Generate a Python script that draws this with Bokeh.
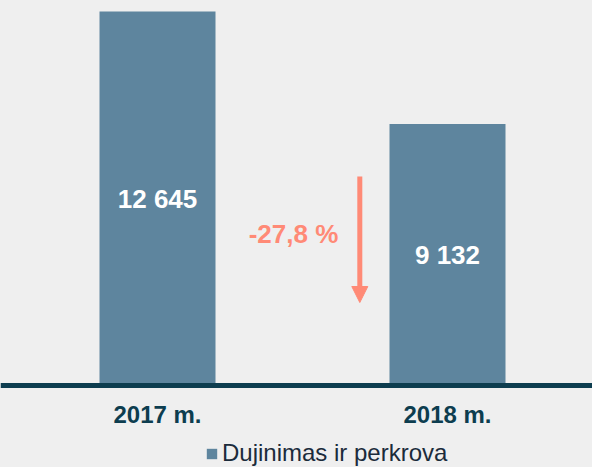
from bokeh.plotting import figure
from bokeh.models import (ColumnDataSource, Range1d, Legend, LegendItem,
                          Label, Arrow, NormalHead, Span)
from bokeh.embed import file_html
from bokeh.resources import INLINE
from bokeh.core.properties import value

# ---- data ----
categories = ["2017 m.", "2018 m."]
values = [12645, 9132]
series_name = "Dujinimas ir perkrova"

BG = "#efefef"
BAR = "#5e859e"
DARK = "#0d3d4f"
SALMON = "#ff8a76"
FONT = "Liberation Sans"

y0 = 965                      # value axis baseline (chart does not start at zero)
xs = list(range(len(categories)))

def fmt(v):
    return f"{v:,}".replace(",", " ")

src = ColumnDataSource(dict(
    x=xs, top=values, cat=categories,
    base=[y0] * len(values),
    mid=[(y0 + v) / 2 for v in values],
    label=[fmt(v) for v in values],
))

p = figure(frame_width=592, frame_height=467, output_backend="svg", toolbar_location=None,
           x_range=Range1d(-0.5414, 1.5), y_range=Range1d(-1596, 12989),
           min_border_left=0, min_border_right=0, min_border_top=0, min_border_bottom=0,
           background_fill_color=BG, border_fill_color=BG, outline_line_color=None)
p.xaxis.visible = False
p.yaxis.visible = False
p.xgrid.visible = False
p.ygrid.visible = False

bars = p.vbar(x="x", top="top", bottom="base", width=0.4, source=src,
              fill_color=BAR, line_color=None)

# baseline (category axis line)
p.add_layout(Span(location=y0, dimension="width", line_color=DARK, line_width=5))

# value labels inside bars
p.text(x="x", y="mid", text="label", source=src, text_align="center",
       text_baseline="middle", text_color="white", text_font=value(FONT),
       text_font_size="26px", text_font_style="bold")

# category labels below the baseline
p.text(x="x", y="base", text="cat", source=src, y_offset=29, text_align="center",
       text_baseline="middle", text_color=DARK, text_font=value(FONT),
       text_font_size="24px", text_font_style="bold")

# percentage change annotation
pct = (values[1] - values[0]) / values[0] * 100
pct_text = f"{pct:.1f}".replace(".", ",") + " %"
p.add_layout(Label(x=0.469, y=5681, text=pct_text, text_align="center",
                   text_baseline="middle", text_color=SALMON, text_font=FONT,
                   text_font_size="26px", text_font_style="bold"))
p.add_layout(Arrow(x_start=0.6976, y_start=7492, x_end=0.6976, y_end=3557,
                   line_color=SALMON, line_width=5,
                   end=NormalHead(size=16, fill_color=SALMON, line_color=SALMON)))

legend = Legend(items=[LegendItem(label=series_name, renderers=[bars])],
                orientation="horizontal", location=(205, 0),
                background_fill_alpha=0, border_line_color=None,
                label_text_font=FONT, label_text_font_size="24px",
                label_text_color="#1b2b3b", glyph_width=13, glyph_height=13,
                label_standoff=4, padding=0, margin=0, spacing=0)
p.add_layout(legend, "center")

html = file_html(p, INLINE)
html = html.replace("<head>", "<head><style>body{background:#efefef;}</style>", 1)
open("out.html", "w").write(html)
